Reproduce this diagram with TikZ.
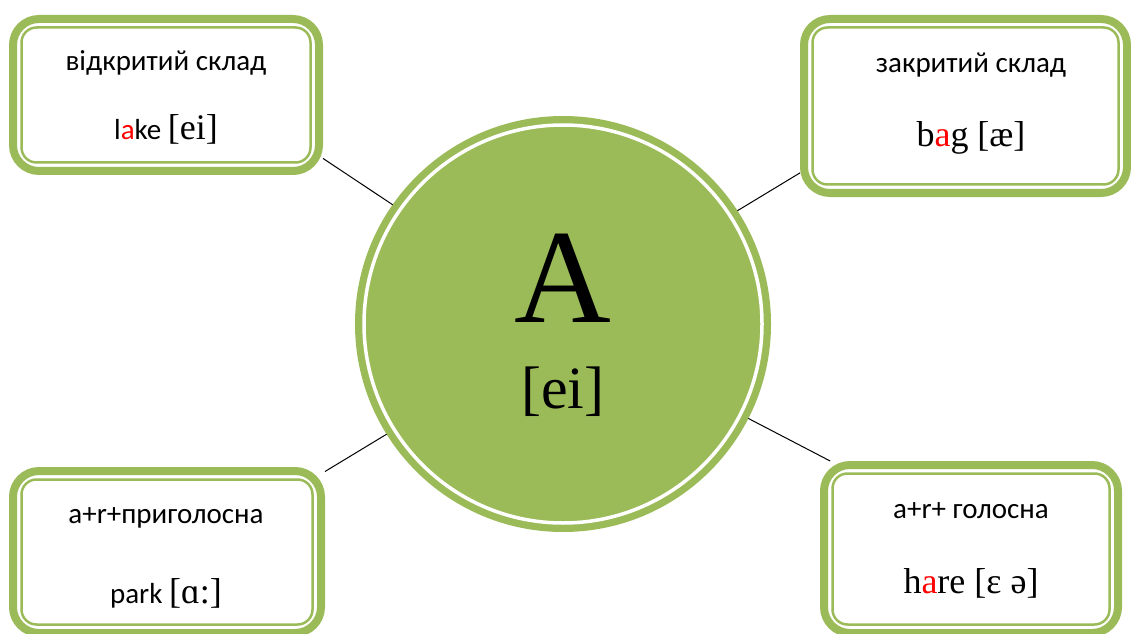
\documentclass[tikz,border=0pt]{standalone}
\usepackage{fontspec}
\setmainfont{Liberation Serif}
\newfontfamily\sansf{Carlito}
\usetikzlibrary{positioning}

\definecolor{leaf}{RGB}{155,187,89}

\begin{document}
\begin{tikzpicture}
[x=1pt,y=1pt,
  box/.style = {rectangle,draw=leaf,fill=white,line width=8pt,rounded corners=26pt},
  rim/.style = {draw=leaf,line width=2.5pt,rounded corners=15pt},
  hub/.style = {circle,draw=leaf,fill=leaf,line width=8pt,minimum size=408pt,inner sep=0pt},
  link/.style = {-,black,line width=1pt},
  top/.style = {anchor=base,inner sep=0pt,font=\sansf\fontsize{29}{34}\selectfont},
  word/.style = {anchor=base,inner sep=0pt,font=\fontsize{36}{42}\selectfont}]
\useasboundingbox (0,0) rectangle (1131,633);

% the four boxes
\node[box,minimum width=306pt,minimum height=152pt] (tl) at (166,538) {};
\node[box,minimum width=323pt,minimum height=174pt] (tr) at (965.5,527) {};
\node[box,minimum width=308pt,minimum height=162pt] (bl) at (167,81) {};
\node[box,minimum width=294pt,minimum height=168pt] (br) at (971,84) {};
\foreach \b in {tl,tr,bl,br}
   \draw[rim] ([shift={(12.5pt,-12.5pt)}]\b.north west) rectangle ([shift={(-12.5pt,12.5pt)}]\b.south east);

% the big letter
\node[hub] (A) at (563,309) {};
\draw[white,line width=3.5pt] (A.center) circle (199pt);
\node[anchor=base,inner sep=0pt,font=\fontsize{134}{140}\selectfont] (big) at (563,311) {A};
\node[anchor=base,inner sep=0pt,font=\fontsize{60}{66}\selectfont] (sound) at (563,225) {[ei]};

%
\node[top] (tl1) at (166,562) {відкритий склад};
\node[top] (tl2) at (166,493) {l\textcolor{red}{a}ke {\rmfamily\fontsize{36}{42}\selectfont[ei]}};
\node[top] (tr1) at (971,560) {закритий склад};
\node[word] (tr2) at (971,486) {b\textcolor{red}{a}g [æ]};
\node[top] (bl1) at (166,110) {a+r+приголосна};
\node[top] (bl2) at (166,30) {park {\rmfamily\fontsize{36}{42}\selectfont[ɑ:]}};
\node[top] (br1) at (971,115) {a+r+ голосна};
\node[word] (br2) at (971,40) {h\textcolor{red}{a}re [ɛ ə]};

%
   \path[link] (tl.-22) edge (A.145) ;
   \path[link] (tr.202) edge (A.33) ;
   \path[link] (bl.27) edge (A.212) ;
   \path[link] (br.148) edge (A.333) ;
\end{tikzpicture}
\end{document}
